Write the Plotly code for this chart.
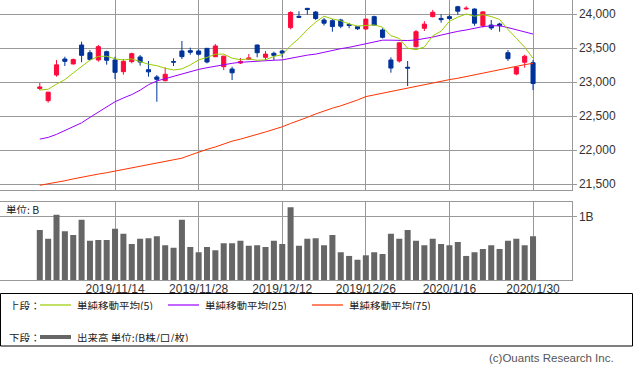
import plotly.graph_objects as go

W, H = 633, 372

dates = ["2019/10/31", "2019/11/1", "2019/11/5", "2019/11/6", "2019/11/7", "2019/11/8",
         "2019/11/11", "2019/11/12", "2019/11/13", "2019/11/14", "2019/11/15", "2019/11/18",
         "2019/11/19", "2019/11/20", "2019/11/21", "2019/11/22", "2019/11/25", "2019/11/26",
         "2019/11/27", "2019/11/28", "2019/11/29", "2019/12/2", "2019/12/3", "2019/12/4",
         "2019/12/5", "2019/12/6", "2019/12/9", "2019/12/10", "2019/12/11", "2019/12/12",
         "2019/12/13", "2019/12/16", "2019/12/17", "2019/12/18", "2019/12/19", "2019/12/20",
         "2019/12/23", "2019/12/24", "2019/12/25", "2019/12/26", "2019/12/27", "2019/12/30",
         "2020/1/6", "2020/1/7", "2020/1/8", "2020/1/9", "2020/1/10", "2020/1/14",
         "2020/1/15", "2020/1/16", "2020/1/17", "2020/1/20", "2020/1/21", "2020/1/22",
         "2020/1/23", "2020/1/24", "2020/1/27", "2020/1/28", "2020/1/29", "2020/1/30"]

opens = [22905, 22725, 23103, 23338, 23265, 23544, 23431, 23324, 23446, 23324,
         23152, 23299, 23368, 23181, 23074, 23019, 23300, 23456, 23461, 23456,
         23495, 23372, 23225, 23191, 23279, 23334, 23544, 23363, 23422, 23456,
         23799, 23965, 24083, 24029, 23912, 23902, 23912, 23845, 23813, 23779,
         23961, 23765, 23324, 23309, 23217, 23519, 23790, 23961, 23935, 23961,
         24107, 24075, 24073, 23828, 23838, 23853, 23431, 23118, 23290, 23284]
highs = [22985, 22852, 23323, 23372, 23345, 23593, 23470, 23544, 23461, 23372,
         23338, 23431, 23397, 23309, 23103, 23216, 23348, 23603, 23505, 23480,
         23500, 23559, 23385, 23225, 23353, 23412, 23550, 23456, 23446, 23470,
         24040, 24040, 24090, 24045, 23940, 23926, 23930, 23870, 23820, 23930,
         23975, 23790, 23363, 23580, 23309, 23765, 23895, 24060, 23995, 23990,
         24120, 24115, 24083, 24040, 23912, 23870, 23470, 23230, 23400, 23324]
lows = [22880, 22696, 23078, 23235, 23262, 23290, 23320, 23299, 23255, 23044,
        23108, 23275, 23240, 23078, 22710, 23010, 23235, 23338, 23402, 23390,
        23275, 23365, 23176, 23029, 23265, 23325, 23363, 23324, 23324, 23363,
        23775, 23950, 23990, 23912, 23830, 23740, 23790, 23790, 23765, 23770,
        23830, 23640, 23137, 23285, 22941, 23510, 23750, 23950, 23872, 23915,
        23990, 24060, 23828, 23800, 23765, 23740, 23310, 23100, 23210, 22882]
closes = [22927, 22851, 23252, 23304, 23330, 23392, 23332, 23520, 23320, 23142,
          23303, 23417, 23293, 23149, 23039, 23113, 23293, 23373, 23438, 23409,
          23294, 23530, 23380, 23135, 23300, 23354, 23431, 23410, 23392, 23425,
          24023, 23952, 24066, 23934, 23865, 23817, 23821, 23831, 23783, 23925,
          23838, 23657, 23205, 23576, 23205, 23740, 23851, 24025, 23917, 23933,
          24041, 24084, 23865, 24031, 23795, 23827, 23344, 23216, 23379, 22978]

ma5 = [22882, 22893, 22969, 23035, 23133, 23226, 23322, 23376, 23379, 23341,
       23323, 23340, 23295, 23261, 23240, 23202, 23177, 23193, 23251, 23325,
       23361, 23409, 23410, 23350, 23328, 23340, 23320, 23326, 23377, 23402,
       23536, 23641, 23772, 23880, 23968, 23927, 23901, 23854, 23823, 23835,
       23839, 23807, 23681, 23640, 23496, 23476, 23515, 23679, 23747, 23893,
       23953, 24000, 23968, 23991, 23963, 23920, 23772, 23643, 23512, 23349]
ma25 = [22160, 22185, 22230, 22285, 22345, 22400, 22480, 22560, 22640, 22710,
        22765, 22815, 22880, 22960, 23015, 23050, 23090, 23125, 23155, 23185,
        23210, 23235, 23255, 23275, 23290, 23300, 23310, 23315, 23320, 23325,
        23350, 23380, 23395, 23410, 23440, 23470, 23490, 23510, 23535, 23560,
        23595, 23615, 23615, 23608, 23610, 23618, 23635, 23660, 23690, 23720,
        23745, 23765, 23790, 23815, 23825, 23828, 23800, 23770, 23745, 23705]
ma75 = [21481, 21500, 21520, 21548, 21575, 21602, 21625, 21646, 21666, 21690,
        21712, 21735, 21758, 21785, 21805, 21830, 21855, 21880, 21925, 21970,
        22010, 22045, 22090, 22130, 22160, 22200, 22230, 22265, 22300, 22342,
        22390, 22430, 22480, 22530, 22575, 22615, 22650, 22690, 22735, 22785,
        22810, 22845, 22870, 22895, 22920, 22945, 22970, 22990, 23015, 23035,
        23055, 23080, 23110, 23140, 23165, 23190, 23210, 23230, 23255, 23275]

volume = [0.79, 0.65, 1.03, 0.77, 0.71, 0.95, 0.62, 0.63, 0.63, 0.81,
          0.73, 0.57, 0.65, 0.66, 0.69, 0.55, 0.51, 0.95, 0.52, 0.44,
          0.52, 0.47, 0.58, 0.58, 0.62, 0.54, 0.55, 0.52, 0.62, 0.57,
          1.15, 0.54, 0.65, 0.66, 0.55, 0.71, 0.44, 0.38, 0.32, 0.39,
          0.44, 0.41, 0.73, 0.65, 0.79, 0.62, 0.55, 0.65, 0.57, 0.55,
          0.60, 0.38, 0.44, 0.49, 0.55, 0.49, 0.62, 0.65, 0.55, 0.69]

tick_dates = ["2019/11/14", "2019/11/28", "2019/12/12", "2019/12/26", "2020/1/16", "2020/1/30"]
price_ticks = [21500, 22000, 22500, 23000, 23500, 24000]
vol_ticks = [1]
vol_tick_text = ["1B"]

legend_upper = ["単純移動平均(5)", "単純移動平均(25)", "単純移動平均(75)"]
legend_lower = "出来高 単位:(B株/口/枚)"

C_UP = "#ff0a3c"
C_DN = "#003399"
C_MA5 = "#99cc00"
C_MA25 = "#9900ff"
C_MA75 = "#ff3300"
C_VOL = "#666666"
C_GRID = "#999999"

xs = list(range(len(dates)))
tickvals = [dates.index(d) for d in tick_dates]

def px(x):
    return x / W

def py(y):
    return 1 - y / H

fig = go.Figure()
fig.add_trace(go.Candlestick(
    x=xs, open=opens, high=highs, low=lows, close=closes,
    increasing=dict(line=dict(color=C_UP, width=1), fillcolor=C_UP),
    decreasing=dict(line=dict(color=C_DN, width=1), fillcolor=C_DN),
    whiskerwidth=0, xaxis="x", yaxis="y", showlegend=False, hoverinfo="skip"))
for vals, col in [(ma75, C_MA75), (ma25, C_MA25), (ma5, C_MA5)]:
    fig.add_trace(go.Scatter(x=xs, y=vals, mode="lines", line=dict(color=col, width=1),
                             xaxis="x", yaxis="y", showlegend=False, hoverinfo="skip"))
fig.add_trace(go.Bar(x=xs, y=volume, marker=dict(color=C_VOL, line=dict(width=0)),
                     width=0.72, xaxis="x2", yaxis="y2", showlegend=False, hoverinfo="skip"))

xr = [-4.76, 63.6]
tick_font = dict(family="Liberation Sans", size=12, color="#333333")
fig.update_layout(
    width=W, height=H, margin=dict(l=0, r=0, t=0, b=0, pad=0, autoexpand=False),
    paper_bgcolor="white", plot_bgcolor="white",
    xaxis=dict(domain=[0, px(571.5)], range=xr, tickvals=tickvals, showticklabels=False,
               showgrid=True, gridcolor=C_GRID, gridwidth=1, zeroline=False,
               showline=True, linecolor=C_GRID, linewidth=1, ticks="", automargin=False,
               rangeslider=dict(visible=False), anchor="y"),
    yaxis=dict(domain=[py(190), py(0)], range=[21411.8, 24205.9], side="right",
               tickvals=price_ticks, tickformat=",", tickfont=tick_font, automargin=False,
               showgrid=True, gridcolor=C_GRID, gridwidth=1, zeroline=False,
               showline=True, linecolor=C_GRID, linewidth=1,
               ticks="outside", ticklen=4, tickcolor=C_GRID, anchor="x"),
    xaxis2=dict(domain=[0, px(571.5)], range=xr, tickvals=tickvals, ticktext=tick_dates,
                tickfont=tick_font, showgrid=True, gridcolor=C_GRID, gridwidth=1,
                zeroline=False, showline=True, linecolor=C_GRID, linewidth=1,
                mirror=True, ticks="", automargin=False, ticklabelstandoff=-2, anchor="y2"),
    yaxis2=dict(domain=[py(280), py(201.5)], range=[0, 1.24], side="right",
                tickvals=vol_ticks, ticktext=vol_tick_text, tickfont=tick_font,
                showgrid=True, gridcolor=C_GRID, gridwidth=1, zeroline=False,
                showline=True, linecolor=C_GRID, linewidth=1, automargin=False,
                ticks="outside", ticklen=4, tickcolor=C_GRID, anchor="x2"),
    bargap=0.28,
)

jp = dict(family="Noto Sans CJK JP", size=10.5, color="#222222")
shapes = []
annotations = []

def note(x, y, text, font=jp, anchor="left", h=10):
    annotations.append(dict(x=px(x), y=py(y), xref="paper", yref="paper", text=text,
                            showarrow=False, xanchor=anchor, yanchor="middle",
                            font=font, height=h, borderpad=0))

note(5, 209, "単位: B")
shapes.append(dict(type="rect", xref="paper", yref="paper", x0=px(0.5), x1=px(632.5),
                   y0=py(346), y1=py(293.5), line=dict(color="#000000", width=1)))
row1, row2 = 305, 337
note(8, row1, "上段：")
note(8, row2, "下段：")
items = [(40, 76, C_MA5), (168, 204, C_MA25), (312, 348, C_MA75)]
for (lx, tx, col), label in zip(items, legend_upper):
    shapes.append(dict(type="line", xref="paper", yref="paper", x0=px(lx), x1=px(lx + 31),
                       y0=py(row1), y1=py(row1), line=dict(color=col, width=1.2)))
    note(tx, row1, label)
shapes.append(dict(type="line", xref="paper", yref="paper", x0=px(40), x1=px(71),
                   y0=py(row2), y1=py(row2), line=dict(color=C_VOL, width=4)))
note(76, row2, legend_lower)
note(615, 358, "(c)Ouants Research Inc.",
     font=dict(family="Liberation Sans", size=11.5, color="#555555"), anchor="right", h=12)
fig.update_layout(shapes=shapes, annotations=annotations)

fig.write_html("out.html", config={"displayModeBar": False},
               post_script="document.body.style.margin='0px';document.body.style.overflow='hidden';")
